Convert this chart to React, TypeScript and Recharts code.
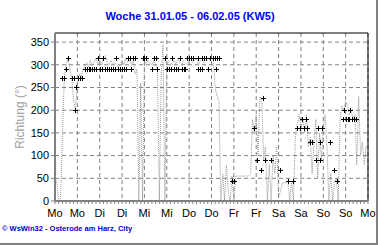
import React from 'react';
import { ComposedChart, Line, Scatter, XAxis, YAxis, CartesianGrid, ReferenceLine } from 'recharts';

// wind direction, one value per hour, Mo 00:00 .. Mo 00:00
const direction = [
  55, 40, 0, 5, 150, 270, 300, 315, 290, 270, 220, 200, 260, 280, 270, 290, 300, 305, 295, 310, 300, 305, 315, 300,
  310, 300, 315, 320, 305, 300, 310, 300, 305, 300, 295, 300, 310, 300, 315, 305, 310, 300, 310, 280, 290, 0, 260, 0,
  310, 300, 310, 305, 300, 310, 300, 290, 0, 280, 345, 0, 300, 310, 305, 300, 310, 300, 315, 305, 300, 310, 305, 300,
  310, 315, 305, 310, 315, 300, 310, 315, 305, 310, 315, 310, 315, 310, 250, 230, 220, 0, 60, 0, 80, 20, 0, 55,
  0, 55, 55, 55, 55, 55, 55, 55, 55, 60, 180, 150, 190, 100, 230, 220, 90, 120, 0, 80, 0, 100, 60, 120,
  10, 20, 40, 40, 40, 45, 0, 45, 0, 140, 170, 190, 160, 180, 150, 190, 120, 140, 60, 130, 180, 50, 150, 90,
  160, 190, 120, 0, 60, 0, 40, 50, 0, 180, 210, 200, 220, 210, 190, 200, 180, 190, 80, 230, 100, 130, 80, 120,
  110,
];

// hourly '+' marks
const markHours = [
  4, 5, 6, 7, 9, 10, 10.7, 11.5, 12.5, 13.5, 14.5, 16, 17, 18, 19, 20, 21, 22, 23, 24, 25, 26, 27, 28, 29, 30,
  31, 32, 33, 34, 35, 36, 37, 38, 39, 40, 41, 42, 43, 47, 48, 49, 52, 53, 54, 55, 59, 60, 61, 62, 63, 64, 65,
  66, 67, 68, 69, 70, 71, 72, 73, 74, 77, 77, 78, 79, 79, 80, 81, 82, 83, 85, 86, 86.5, 87, 88, 95, 96, 107,
  108.5, 110.5, 111.5, 112.5, 116, 120.5, 125, 128, 130, 131.5, 132.5, 133.5, 134.5, 135.5, 137, 138, 140, 141,
  142, 142.5, 143.5, 147.5, 150, 151.5, 154.5, 155, 156, 157, 158, 158.5, 159.5, 160.5, 161.5,
];
const markValues = [
  270, 270, 290, 315, 270, 270, 200, 250, 270, 270, 270, 290, 290, 290, 290, 290, 290, 290, 315, 290, 290, 315, 290, 290, 290, 290,
  290, 290, 315, 290, 290, 290, 290, 290, 315, 315, 290, 315, 315, 315, 315, 315, 290, 315, 315, 290, 315, 290, 290, 290, 315, 290, 290,
  290, 315, 290, 290, 290, 315, 315, 315, 315, 290, 315, 290, 290, 315, 315, 315, 290, 315, 315, 315, 290, 315, 315, 45, 45, 160,
  90, 68, 227, 90, 90, 68, 45, 45, 160, 160, 180, 160, 180, 160, 130, 130, 90, 160,
  90, 130, 160, 130, 68, 45, 180, 200, 180, 180, 180, 200, 180, 180, 180,
];

const dayLabels = ['Mo', 'Mo', 'Di', 'Di', 'Mi', 'Mi', 'Do', 'Do', 'Fr', 'Fr', 'Sa', 'Sa', 'So', 'So', 'Mo'];
const yTicks = [0, 50, 100, 150, 200, 250, 300, 350];

const lineData = direction.map((v, i) => ({ h: i, dir: v }));
const markData = markHours.map((h, i) => ({ h, mark: markValues[i] }));
const minorTicks = Array.from({ length: 85 }, (_, i) => i * 2);
const gridX = dayLabels.map((_, i) => i * 12);

const font = '"Liberation Sans", Arial, sans-serif';

const DayTick = (props: any) => {
  const { x, y, payload } = props;
  if (payload.value % 12 !== 0) return null;
  return (
    <text x={x} y={y} dy={11} textAnchor="middle" fontSize={11} fill="#000" fontFamily={font}>
      {dayLabels[payload.value / 12]}
    </text>
  );
};

// small crisp plus sign
const Plus = (props: any) => {
  const x = Math.round(props.cx);
  const y = Math.round(props.cy);
  return (
    <path
      d={`M${x - 2},${y + 0.5}h5M${x + 0.5},${y - 2}v5`}
      stroke="#000"
      strokeWidth={1}
      fill="none"
      shapeRendering="crispEdges"
    />
  );
};

export default function App() {
  return (
    <div style={{ position: 'absolute', left: 0, top: 0, width: 380, height: 245, background: '#fff', fontFamily: font }}>
      <div style={{ position: 'absolute', left: 0, top: 10, width: 380, textAlign: 'center', color: '#0000ff', fontWeight: 'bold', fontSize: 11 }}>
        Woche 31.01.05 - 06.02.05 (KW5)
      </div>
      <div style={{ position: 'absolute', left: -30, top: 110, width: 100, textAlign: 'center', color: '#a0a0a0', fontSize: 12, transform: 'rotate(-90deg)' }}>
        Richtung (°)
      </div>
      <ComposedChart width={380} height={245} data={lineData} margin={{ top: 33, right: 12, bottom: 14, left: 0 }}>
        <CartesianGrid stroke="#808080" strokeDasharray="4 3" verticalValues={gridX} horizontalValues={yTicks} />
        <XAxis
          dataKey="h"
          type="number"
          domain={[0, 168]}
          ticks={minorTicks}
          interval={0}
          tick={<DayTick />}
          tickSize={3}
          tickMargin={2}
          height={30}
          axisLine={{ stroke: '#808080', strokeWidth: 2 }}
          tickLine={{ stroke: '#808080' }}
        />
        <YAxis
          type="number"
          domain={[0, 370]}
          ticks={yTicks}
          interval={0}
          width={55}
          tickSize={4}
          tickMargin={2}
          tick={{ fontSize: 11, fill: '#000', fontFamily: font }}
          axisLine={{ stroke: '#808080', strokeWidth: 2 }}
          tickLine={{ stroke: '#808080' }}
        />
        <ReferenceLine y={370} stroke="#000" />
        <ReferenceLine x={168} stroke="#000" />
        <Line
          dataKey="dir"
          type="linear"
          stroke="#999999"
          strokeWidth={1}
          strokeDasharray="1 1"
          dot={false}
          isAnimationActive={false}
        />
        <Scatter data={markData} dataKey="mark" shape={<Plus />} isAnimationActive={false} />
      </ComposedChart>
      <div style={{ position: 'absolute', left: 2, top: 224, color: '#0000cc', fontWeight: 'bold', fontSize: 7.5, whiteSpace: 'nowrap' }}>
        © WsWin32 - Osterode am Harz, City
      </div>
      <div style={{ position: 'absolute', left: 376, top: 0, width: 2, height: 245, background: '#808080' }} />
      <div style={{ position: 'absolute', left: 0, top: 243, width: 378, height: 2, background: '#808080' }} />
    </div>
  );
}
